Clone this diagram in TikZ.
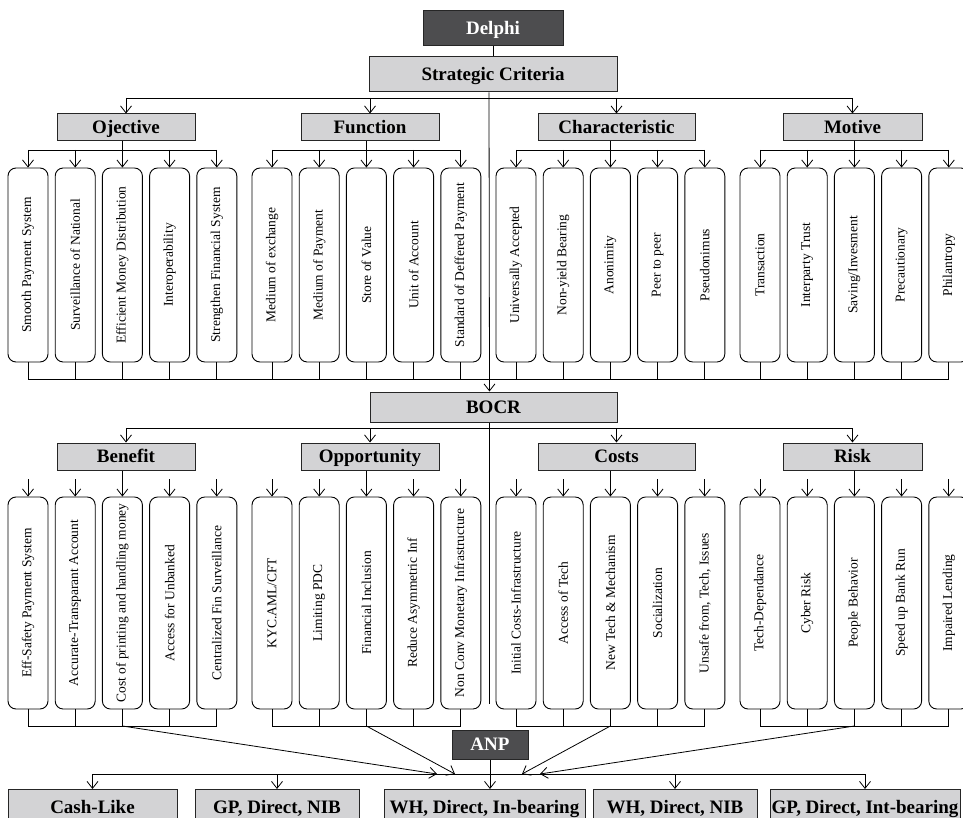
\documentclass[tikz,border=0pt]{standalone}
\usepackage{fontspec}
\setmainfont{Liberation Serif}
\usetikzlibrary{arrows.meta}
\definecolor{boxgray}{RGB}{211,211,213}
\definecolor{boxdark}{RGB}{77,77,79}
\tikzset{
  head/.style={draw=black!85, line width=1pt, fill=boxgray, inner sep=0pt,
    minimum height=27, text height=14, text depth=1.5,
    font=\bfseries\fontsize{19}{19}\selectfont},
  dark/.style={head, fill=boxdark, text=white},
  leaf/.style={draw, line width=0.9pt, rounded corners=8, inner sep=0pt,
    minimum width=40, font=\fontsize{13.5}{13.5}\selectfont},
  arr/.style={-{Straight Barb[length=7pt,width=11pt]}}
}
\begin{document}
\begin{tikzpicture}[x=1pt, y=-1pt, line width=0.8pt]
\useasboundingbox (0,0) rectangle (963,818);
\clip (0,0) rectangle (963,818);
% bus heights
\coordinate (sbus) at (0,98);
\coordinate (stop) at (0,150);
\coordinate (send) at (0,379);
\coordinate (bbus) at (0,428);
\coordinate (btop) at (0,479);
\coordinate (bend) at (0,726);
\coordinate (abus) at (0,774);

\node[dark, minimum width=140, minimum height=35] (delphi) at (493,28.5) {Delphi};
\node[head, minimum width=248, minimum height=35] (sc) at (493,74.5) {Strategic Criteria};
\node[head, minimum width=247, minimum height=30] (bocr) at (493.5,407) {BOCR};
\node[dark, minimum width=76, minimum height=29] (anp) at (490,744.5) {ANP};

\draw (delphi) -- (sc);
\draw[arr] ([xshift=-4]sc.south) -- ([xshift=-4]bocr.north);
\draw ([xshift=-4]bocr.south) -- ++(0,281);
\draw (126,98) -- (853,98);
\draw (127,428) -- (853,428);

% strategic criteria
\foreach \g/\gn/\gx/\gw/\lab/\items in {
  0/obj/126/138/Ojective/{Smooth Payment System, Surveillance of National, Efficient Money Distribution, Interoperability, Strengthen Financial System},
  1/fun/370/138/Function/{Medium of exchange, Medium of Payment, Store of Value, Unit of Account, Standard of Deffered Payment},
  2/cha/616.5/157/Characteristic/{Universally Accepted, Non-yield Bearing, Anonimity, Peer to peer, Pseudonimus},
  3/mot/852.5/139/Motive/{Transaction, Interparty Trust, Saving/Invesment, Precautionary, Philantropy}}
{
  \node[head, minimum width=\gw] (\gn) at (\gx,127.5) {\lab};
  \draw[arr] (\gn |- sbus) -- (\gn.north);
  \foreach \t [count=\i from 0] in \items {
    \node[leaf, minimum height=194] (\gn\i) at (28+244*\g+47.2*\i,265) {\rotatebox{90}{\t}};
    \draw[arr] (\gn\i |- stop) -- (\gn\i.north);
    \draw (\gn\i.south) -- (\gn\i |- send);
  }
  \draw (\gn.south -| \gn2) -- (\gn2 |- stop);
  \draw (\gn0 |- stop) -- (\gn4 |- stop);
}
\draw (obj0 |- send) -- (mot4 |- send);

% bocr
\foreach \g/\gn/\gx/\gw/\lab/\ax/\items in {
  0/ben/126/138/Benefit/437/{Eff-Safety Payment System, Accurate-Transparant Account, Cost of printing and handling money, Access for Unbanked, Centralized Fin Surveillance},
  1/opp/370/138/Opportunity/455/{KYC.AML/CFT, Limiting PDC, Financial Inclusion, Reduce Asymmetric Inf, Non Conv Monetary Infrastructure},
  2/cst/616.5/157/Costs/522/{Initial Costs-Infrastructure, Access of Tech, New Tech \& Mechanism, Socialization, {Unsafe from, Tech, Issues}},
  3/rsk/852.5/139/Risk/540/{Tech-Dependance, Cyber Risk, People Behavior, Speed up Bank Run, Impaired Lending}}
{
  \node[head, minimum width=\gw] (\gn) at (\gx,456.5) {\lab};
  \draw[arr] (\gn |- bbus) -- (\gn.north);
  \foreach \t [count=\i from 0] in \items {
    \node[leaf, minimum height=212] (\gn\i) at (28+244*\g+47.2*\i,603) {\rotatebox{90}{\t}};
    \draw[arr] (\gn\i |- btop) -- (\gn\i.north);
    \draw (\gn\i.south) -- (\gn\i |- bend);
  }
  \draw (\gn.south -| \gn2) -- (\gn2 |- btop);
  \draw (\gn0 |- bend) -- (\gn4 |- bend);
  \coordinate (\gn-a) at (\ax,774);
  \draw[arr] (\gn2 |- bend) -- (\gn-a);
}

% anp alternatives
\foreach \n/\x/\w/\lab in {cash/92.5/169/Cash-Like, gpnib/277/164/{GP, Direct, NIB},
  whib/484.5/201/{WH, Direct, In-bearing}, whnib/675/164/{WH, Direct, NIB},
  gpib/865/190/{GP, Direct, Int-bearing}}
  \node[head, minimum width=\w, minimum height=36, anchor=north] (\n) at (\x,789) {\lab};
\draw (cash |- abus) -- (gpib |- abus);
\foreach \n in {cash,gpnib,whnib,gpib}
  \draw[arr] (\n |- abus) -- (\n.north);
\draw[arr] (anp) -- (anp |- whib.north);
\end{tikzpicture}
\end{document}
